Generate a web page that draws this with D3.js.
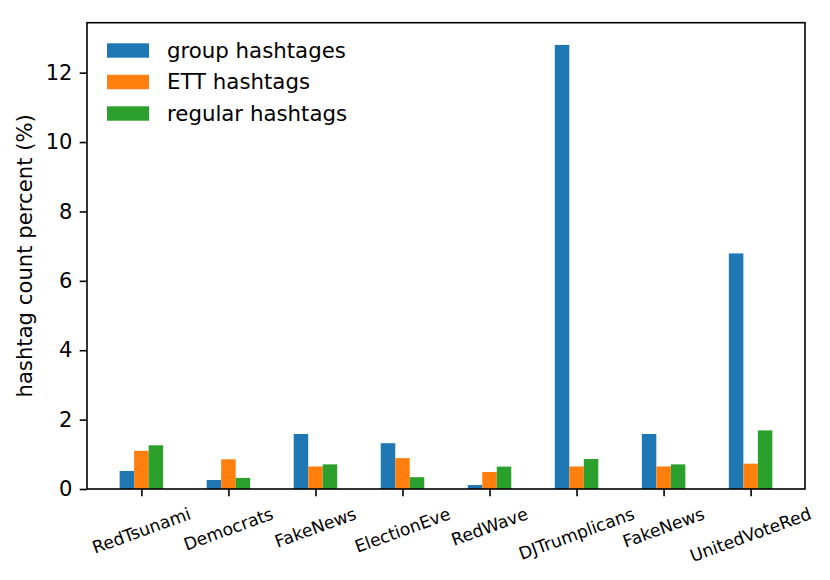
<!DOCTYPE html>
<html lang="en">
  <head>
    <meta charset="UTF-8" />
    <title>hashtag count percent</title>
    <style>
      body { margin: 0; background: #fff; }
      text { font-family: "DejaVu Sans", sans-serif; fill: #000; }
    </style>
  </head>
  <body>
    <svg width="830" height="580"></svg>
    <script src="https://cdn.jsdelivr.net/npm/d3@7/dist/d3.min.js"></script>
    <script>
      var categories = ["RedTsunami", "Democrats", "FakeNews", "ElectionEve", "RedWave", "DJTrumplicans", "FakeNews", "UnitedVoteRed"];
      var seriesNames = ["group hashtages", "ETT hashtags", "regular hashtags"];
      var groupValues = [0.52, 0.26, 1.585, 1.32, 0.115, 12.8, 1.585, 6.79];
      var ettValues = [1.1, 0.855, 0.65, 0.89, 0.49, 0.65, 0.65, 0.73];
      var regularValues = [1.26, 0.32, 0.71, 0.34, 0.645, 0.865, 0.71, 1.69];
      var yTicks = [0, 2, 4, 6, 8, 10, 12];
      var colors = ["#1f77b4", "#ff7f0e", "#2ca02c"];

      var series = [groupValues, ettValues, regularValues];

      var svg = d3.select("svg");
      // plot box (window.top is reserved, so prefixed names)
      var pLeft = 87, pRight = 805, pTop = 22.7, pBottom = 489;

      var x = d3.scaleLinear().domain([-0.625, categories.length - 1 + 0.625]).range([pLeft, pRight]);
      var maxV = d3.max(series, function (s) { return d3.max(s); });
      var y = d3.scaleLinear().domain([0, maxV * 1.05]).range([pBottom, pTop]);

      var barW = 0.5 / series.length;

      // bars
      series.forEach(function (vals, si) {
        svg.append("g")
          .selectAll("rect")
          .data(vals)
          .enter()
          .append("rect")
          .attr("x", function (d, i) { return x(i - 0.25 + si * barW); })
          .attr("width", function () { return x(barW) - x(0); })
          .attr("y", function (d) { return y(d); })
          .attr("height", function (d) { return y(0) - y(d); })
          .attr("fill", colors[si]);
      });

      // y axis
      var yAxis = svg.append("g")
        .attr("transform", "translate(" + pLeft + ",0)")
        .call(d3.axisLeft(y).tickValues(yTicks).tickSize(7.3).tickPadding(7.3).tickFormat(d3.format("d")));
      yAxis.select(".domain").remove();
      yAxis.selectAll("line").attr("stroke", "#000").attr("stroke-width", 1.6);
      yAxis.selectAll("text").attr("font-size", "21px").attr("font-family", "DejaVu Sans").attr("fill", "#000");

      // x axis
      var xAxis = svg.append("g")
        .attr("transform", "translate(0," + pBottom + ")")
        .call(d3.axisBottom(x).tickValues(d3.range(categories.length)).tickSize(7.3).tickFormat(""));
      xAxis.select(".domain").remove();
      xAxis.selectAll("line").attr("stroke", "#000").attr("stroke-width", 1.6);

      var angle = 20 * Math.PI / 180;
      var fs = 17.2;
      svg.append("g")
        .selectAll("text")
        .data(categories)
        .enter()
        .append("text")
        .attr("font-size", fs + "px")
        .attr("text-anchor", "middle")
        .attr("dy", "0.346em")
        .text(function (d) { return d; })
        .attr("transform", function (d, i) {
          var w = this.getComputedTextLength();
          var h = fs * 1.164;
          var bh = w * Math.sin(angle) + h * Math.cos(angle);
          return "translate(" + x(i) + "," + (pBottom + 7.3 + 7.3 + bh / 2) + ") rotate(-20)";
        });

      // frame
      svg.append("rect")
        .attr("x", pLeft).attr("y", pTop)
        .attr("width", pRight - pLeft).attr("height", pBottom - pTop)
        .attr("fill", "none").attr("stroke", "#000").attr("stroke-width", 1.6);

      // y label
      svg.append("text")
        .attr("font-size", "21.2px")
        .attr("text-anchor", "middle")
        .attr("transform", "translate(32," + (pTop + pBottom) / 2 + ") rotate(-90)")
        .text("hashtag count percent (%)");

      // legend
      var legend = svg.append("g");
      seriesNames.forEach(function (name, i) {
        var cy = 50.5 + i * 31.5;
        legend.append("rect")
          .attr("x", 107).attr("y", cy - 7.2)
          .attr("width", 42).attr("height", 14.4)
          .attr("fill", colors[i]);
        legend.append("text")
          .attr("x", 167).attr("y", cy)
          .attr("dy", "0.346em")
          .attr("font-size", "21.3px")
          .text(name);
      });
    </script>
  </body>
</html>
